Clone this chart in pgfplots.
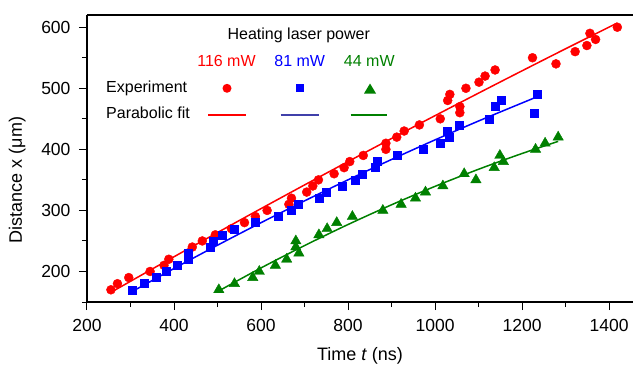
\documentclass[border=0pt]{standalone}
\usepackage{fontspec}
\setmainfont{Liberation Sans}
\usepackage{pgfplots}
\pgfplotsset{compat=1.18}
\definecolor{cred}{RGB}{255,0,0}
\definecolor{cblue}{RGB}{0,0,255}
\definecolor{cgreen}{RGB}{0,128,0}
\definecolor{cnavy}{RGB}{64,64,170}
\begin{document}
\begin{tikzpicture}
\begin{axis}[
  at={(0,0)}, anchor=south west,
  scale only axis, width=546pt, height=287pt,
  xmin=200, xmax=1455, ymin=150, ymax=620,
  axis x line*=box, axis y line*=left,
  xtick pos=left, ytick pos=left,
  axis line style={-, line width=1.1pt},
  xtick={200,400,...,1400}, minor xtick={300,500,...,1300},
  ytick={200,300,...,600}, minor ytick={150,250,...,550},
  tick align=outside,
  major tick length=8pt, minor tick length=5pt,
  every tick/.style={black, line width=1pt},
  /pgf/number format/assume math mode=true,
  /pgf/number format/1000 sep={},
  tick label style={font=\fontsize{17.5}{20}\selectfont},
  xticklabel style={yshift=-6pt},
  yticklabel style={xshift=-5pt},
  label style={font=\fontsize{18}{21}\selectfont},
  xlabel={Time \textit{t} (ns)},
  ylabel={Distance x (μm)},
  xlabel style={at={(axis description cs:0.5,-0.188)}, anchor=center},
  ylabel style={at={(axis description cs:-0.128,0.425)}, anchor=center},
  clip=false,
]
% 116 mW
\addplot[only marks, mark=*, mark size=4.5pt, color=cred] coordinates {
(255,170)(270,180)(296,190)(345,200)(377,210)(388,220)(442,240)(465,250)(495,260)(532,270)
(562,280)(587,290)(614,300)(664,310)(670,320)(705,330)(719,340)(732,350)(768,360)(791,370)
(804,380)(835,390)(887,400)(887,410)(912,420)(929,430)(964,440)(1012,450)(1057,460)(1057,470)
(1029,480)(1034,490)(1071,500)(1101,510)(1115,520)(1138,530)(1278,540)(1224,550)(1322,560)
(1349,570)(1369,580)(1356,590)(1419,600)};
\addplot[color=cred, line width=1.5pt, smooth] coordinates {
(253,165)(400,224.1)(550,283.4)(700,341.7)(850,398.9)(1000,455.2)(1150,510.4)(1300,564.7)(1419,606.9)};
% 81 mW
\addplot[only marks, mark=square*, mark size=4pt, color=cblue] coordinates {
(305,170)(332,180)(359,190)(382,200)(408,210)(433,220)(432,230)(483,240)(489,250)(510,260)
(539,270)(586,280)(640,290)(669,300)(685,310)(733,320)(749,330)(787,340)(816,350)(832,360)
(862,370)(868,380)(913,390)(972,400)(1012,410)(1033,420)(1029,430)(1055,440)(1125,450)
(1227,460)(1139,470)(1153,480)(1235,490)};
\addplot[color=cblue, line width=1.5pt, smooth] coordinates {
(301,166)(400,204.9)(500,243.0)(600,279.9)(700,315.6)(800,350.1)(900,383.4)(1000,415.5)(1100,446.4)(1234,485.9)};
% 44 mW
\addplot[only marks, mark=triangle*, mark size=6pt, color=cgreen] coordinates {
(503,170)(539,180)(581,190)(596,200)(633,210)(659,220)(687,230)(680,240)(680,250)(733,260)
(752,270)(774,280)(810,290)(880,300)(922,310)(955,320)(978,330)(1018,340)(1094,350)(1067,360)
(1136,370)(1157,380)(1149,390)(1231,400)(1253,410)(1283,420)};
\addplot[color=cgreen, line width=1.5pt, smooth] coordinates {
(500,167)(600,205.8)(700,242.4)(800,276.9)(900,309.2)(1000,339.4)(1100,367.4)(1200,393.2)(1283,413.0)};
\end{axis}
% legend
\begin{scope}[font=\fontsize{16}{19}\selectfont]
\node at (211.8pt,267pt) {Heating laser power};
\node[text=cred] at (139.5pt,241.3pt) {116 mW};
\node[text=cblue] at (212.7pt,241.3pt) {81 mW};
\node[text=cgreen] at (282.3pt,241.3pt) {44 mW};
\node[anchor=west, inner sep=0pt] at (19pt,213.7pt) {Experiment};
\node[anchor=west, inner sep=0pt] at (19pt,189.3pt) {Parabolic fit};
\fill[cred] (140pt,213.7pt) circle (4.5pt);
\fill[cblue] (209pt,209.7pt) rectangle (217pt,217.7pt);
\fill[cgreen] (277pt,208.5pt) -- (289pt,208.5pt) -- (283pt,218.5pt) -- cycle;
\draw[cred, line width=1.3pt] (121.3pt,187pt) -- (158.7pt,187pt);
\draw[cnavy, line width=1.3pt] (193.7pt,187pt) -- (232.3pt,187pt);
\draw[cgreen, line width=1.3pt] (263.7pt,187pt) -- (299.7pt,187pt);
\end{scope}
\pgfresetboundingbox
\path (-87pt,-71pt) rectangle (546pt,302pt);
\end{tikzpicture}
\end{document}
